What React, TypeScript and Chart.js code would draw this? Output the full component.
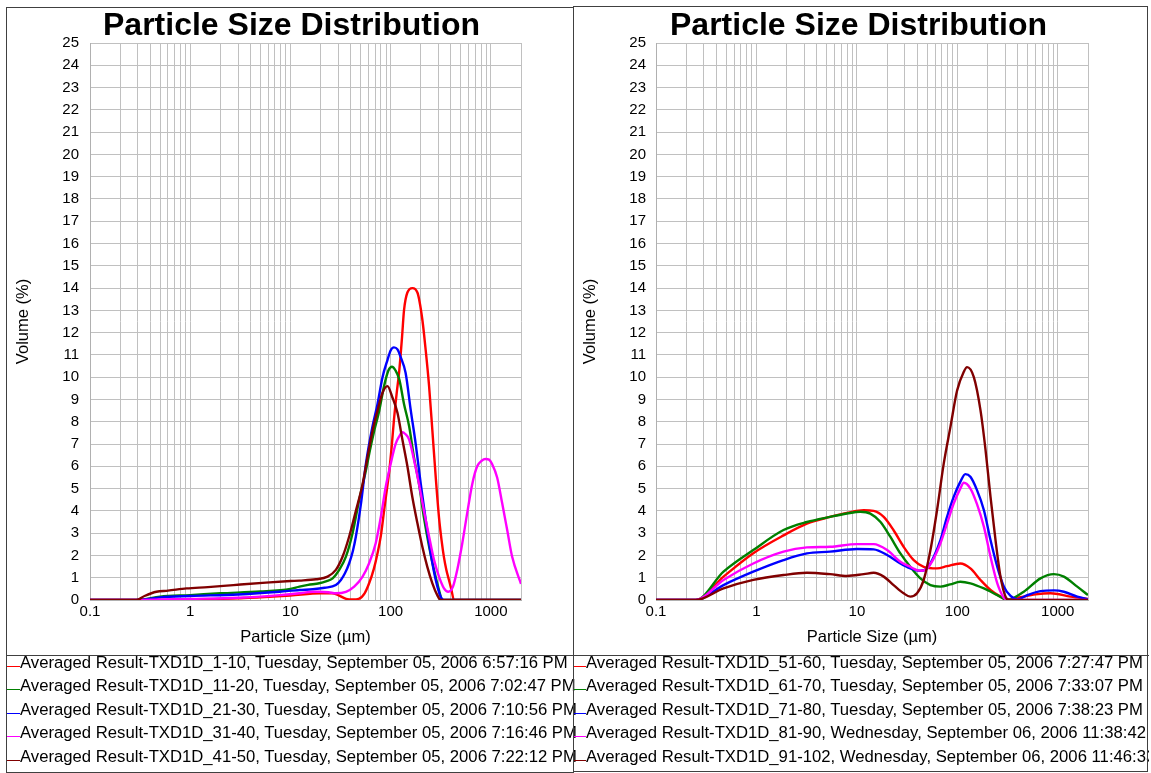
import React, { useEffect, useRef } from 'react';
import { Chart, registerables } from 'chart.js';

Chart.register(...registerables);

const FONT = '"Liberation Sans", Arial, Helvetica, sans-serif';

const TITLE = 'Particle Size Distribution';
const X_TITLE = 'Particle Size (µm)';
const Y_TITLE = 'Volume (%)';
const X_MIN = 0.1;
const X_MAX = 2000;
const Y_MIN = 0;
const Y_MAX = 25;
const X_LABELS = [0.1, 1, 10, 100, 1000];
const X_DECADES = [0.1, 1, 10, 100];
const X_MULT = [1, 2, 3, 4, 5, 6, 7, 8, 9];
const X_GRID = [...X_DECADES.flatMap((d) => X_MULT.map((m) => d * m)), 1000, 2000];

const COLORS = ['#ff0000', '#008000', '#0000ff', '#ff00ff', '#800000'];

// ---- Left chart series ----
const LEFT_LABELS = [
  'Averaged Result-TXD1D_1-10, Tuesday, September 05, 2006 6:57:16 PM',
  'Averaged Result-TXD1D_11-20, Tuesday, September 05, 2006 7:02:47 PM',
  'Averaged Result-TXD1D_21-30, Tuesday, September 05, 2006 7:10:56 PM',
  'Averaged Result-TXD1D_31-40, Tuesday, September 05, 2006 7:16:46 PM',
  'Averaged Result-TXD1D_41-50, Tuesday, September 05, 2006 7:22:12 PM',
];

const s1_10 = [0.1, 0.8, 1.5, 3, 5, 10, 20, 26, 30, 36, 42, 48, 55, 61, 68, 74, 80, 86, 92, 97, 103, 108, 115, 122, 130, 136, 147, 165, 185, 207, 224, 242, 261, 282, 304, 322, 341, 360, 382, 405, 428, 2000];
const v1_10 = [0, 0, 0.03, 0.08, 0.12, 0.2, 0.3, 0.3, 0.22, 0.05, 0.02, 0.05, 0.3, 0.75, 1.4, 2.1, 2.9, 4.0, 5.0, 5.8, 7.0, 8.1, 9.3, 10.3, 11.8, 13.0, 13.8, 14.0, 13.8, 12.6, 11.2, 9.6, 7.6, 5.5, 3.7, 2.7, 1.9, 1.35, 0.9, 0.45, 0, 0];

const s11_20 = [0.1, 0.3, 0.5, 1, 2, 5, 10, 12.3, 15, 19.4, 23, 26.4, 30.7, 35.8, 41.7, 48.6, 56.6, 62, 68.6, 77, 86, 95, 103, 112, 122, 136, 153, 171, 192, 215, 242, 271, 304, 327, 2000];
const v11_20 = [0, 0, 0.15, 0.22, 0.3, 0.38, 0.5, 0.6, 0.68, 0.75, 0.85, 0.97, 1.35, 1.95, 3.0, 4.5, 5.8, 6.7, 7.6, 8.5, 9.6, 10.3, 10.47, 10.3, 9.9, 8.8, 7.8, 6.4, 5.2, 3.7, 2.4, 1.35, 0.45, 0, 0];

const s21_30 = [0.1, 0.3, 0.5, 1, 3, 7.8, 12.3, 16.7, 22, 28.4, 31.9, 35, 38.6, 42, 45, 50.5, 56.6, 66, 74, 83, 93, 100, 108, 117, 126, 141, 159, 178, 200, 224, 251, 282, 316, 340, 2000];
const v21_30 = [0, 0, 0.12, 0.18, 0.25, 0.37, 0.45, 0.48, 0.55, 0.67, 0.9, 1.2, 1.65, 2.2, 2.85, 4.3, 6.1, 7.8, 8.8, 10.0, 10.77, 11.2, 11.34, 11.25, 10.9, 10.2, 8.5, 7.0, 5.2, 3.6, 2.1, 0.9, 0.15, 0, 0];

const s31_40 = [0.1, 0.3, 1, 3, 7.8, 12.3, 16.7, 19.4, 24, 28.4, 35.8, 43.3, 52.5, 61, 71, 80, 89.5, 100, 112, 122, 131, 140, 153, 171, 192, 215, 242, 271, 304, 341, 376, 419, 462, 519, 581, 652, 731, 810, 884, 960, 1030, 1156, 1297, 1455, 1630, 2000];
const v31_40 = [0, 0, 0.05, 0.1, 0.22, 0.3, 0.37, 0.37, 0.35, 0.3, 0.37, 0.6, 1.05, 1.65, 2.55, 3.75, 5.1, 6.1, 7.0, 7.35, 7.53, 7.45, 7.2, 6.3, 5.2, 4.0, 2.85, 1.8, 1.05, 0.52, 0.37, 0.6, 1.35, 2.55, 3.9, 5.2, 6.0, 6.25, 6.33, 6.3, 6.1, 5.5, 4.35, 3.15, 1.95, 0.72];

const s41_50 = [0.1, 0.29, 0.35, 0.46, 0.6, 0.92, 1.5, 2.7, 5.7, 10, 12.3, 18, 23.5, 28.4, 33.2, 38.6, 45, 52.5, 58.7, 66, 74, 83, 93, 104, 117, 131, 147, 165, 185, 207, 232, 261, 292, 316, 2000];
const v41_50 = [0, 0, 0.18, 0.37, 0.42, 0.52, 0.58, 0.67, 0.78, 0.85, 0.87, 0.93, 1.05, 1.35, 1.95, 2.85, 4.0, 5.2, 6.4, 7.6, 8.5, 9.3, 9.6, 9.1, 8.4, 7.2, 6.0, 4.6, 3.45, 2.4, 1.5, 0.75, 0.22, 0, 0];

// ---- Right chart series ----
const RIGHT_LABELS = [
  'Averaged Result-TXD1D_51-60, Tuesday, September 05, 2006 7:27:47 PM',
  'Averaged Result-TXD1D_61-70, Tuesday, September 05, 2006 7:33:07 PM',
  'Averaged Result-TXD1D_71-80, Tuesday, September 05, 2006 7:38:23 PM',
  'Averaged Result-TXD1D_81-90, Wednesday, September 06, 2006 11:38:42 AM',
  'Averaged Result-TXD1D_91-102, Wednesday, September 06, 2006 11:46:33 AM',
];

const s51_60 = [0.1, 0.25, 0.47, 0.93, 1.86, 3.18, 5.4, 7.96, 11.7, 14.7, 18.5, 23.2, 29.2, 36.8, 46.3, 62.8, 79, 107, 135, 170, 214, 269, 314, 398, 600, 847, 1343, 2000];
const v51_60 = [0, 0, 1.05, 2.1, 2.9, 3.43, 3.73, 3.91, 4.03, 4.0, 3.73, 3.13, 2.39, 1.79, 1.49, 1.42, 1.52, 1.64, 1.42, 0.9, 0.45, 0.15, 0.03, 0.1, 0.25, 0.3, 0.15, 0.05];

const s61_70 = [0.1, 0.25, 0.47, 0.93, 1.86, 3.18, 5.4, 7.96, 10.8, 13.6, 17.1, 21.5, 27.1, 34, 42.9, 54, 67.9, 85, 107, 135, 184, 250, 314, 459, 673, 915, 1150, 1563, 2000];
const v61_70 = [0, 0, 1.27, 2.24, 3.14, 3.5, 3.73, 3.88, 3.96, 3.88, 3.51, 2.84, 2.09, 1.49, 0.97, 0.67, 0.6, 0.7, 0.82, 0.75, 0.52, 0.22, 0, 0.37, 0.97, 1.16, 1.05, 0.6, 0.22];

const s71_80 = [0.1, 0.25, 0.47, 0.93, 1.86, 3.18, 5.4, 10, 14.7, 20, 27.1, 34, 42.9, 50, 58.3, 67.9, 79, 92, 107, 120, 135, 157, 184, 214, 250, 291, 339, 395, 497, 673, 915, 1150, 1563, 2000];
const v71_80 = [0, 0, 0.67, 1.27, 1.79, 2.09, 2.17, 2.29, 2.27, 2.02, 1.64, 1.42, 1.31, 1.42, 1.94, 2.69, 3.73, 4.63, 5.3, 5.65, 5.53, 4.93, 4.03, 2.69, 1.49, 0.6, 0.18, 0.03, 0.22, 0.4, 0.43, 0.37, 0.15, 0.03];

const s81_90 = [0.1, 0.25, 0.47, 0.93, 1.86, 3.18, 5.4, 10, 14.7, 20, 27.1, 34, 39.7, 44.6, 50, 58.3, 67.9, 79, 92, 107, 116, 135, 157, 184, 214, 250, 291, 320, 2000];
const v81_90 = [0, 0, 0.9, 1.64, 2.17, 2.36, 2.39, 2.51, 2.51, 2.24, 1.72, 1.49, 1.34, 1.31, 1.42, 1.87, 2.54, 3.43, 4.33, 5.0, 5.26, 5.0, 4.3, 3.28, 1.94, 0.75, 0.1, 0, 0];

const s91_102 = [0.1, 0.25, 0.47, 0.93, 1.86, 3.18, 5.4, 7.96, 11.7, 14.7, 18.5, 23.2, 29.2, 34, 39.7, 46.3, 54, 62.8, 73.3, 85.4, 99.5, 116, 125, 146, 170, 191, 214, 240, 269, 302, 330, 2000];
const v91_102 = [0, 0, 0.52, 0.9, 1.12, 1.22, 1.16, 1.08, 1.16, 1.22, 1.05, 0.67, 0.3, 0.15, 0.3, 0.9, 2.24, 4.03, 6.13, 7.77, 9.4, 10.24, 10.45, 10.0, 8.52, 6.73, 4.63, 2.69, 1.05, 0.15, 0, 0];

const LEFT_SERIES = [
  [s1_10, v1_10],
  [s11_20, v11_20],
  [s21_30, v21_30],
  [s31_40, v31_40],
  [s41_50, v41_50],
];
const RIGHT_SERIES = [
  [s51_60, v51_60],
  [s61_70, v61_70],
  [s71_80, v71_80],
  [s81_90, v81_90],
  [s91_102, v91_102],
];

function buildDatasets(series: number[][][], labels: string[]) {
  return series.map(([sizes, vols], i) => ({
    label: labels[i],
    data: sizes.map((s, k) => ({ x: s, y: vols[k] })),
    borderColor: COLORS[i],
    backgroundColor: COLORS[i],
    borderWidth: 2.4,
    pointRadius: 0,
    fill: false,
    cubicInterpolationMode: 'monotone' as const,
    order: series.length - i,
  }));
}

type ChartProps = {
  series: number[][][];
  labels: string[];
  width: number;
  height: number;
  padLeft: number;
  padRight: number;
  yWidth: number;
  yTickPad: number;
  yTitlePad: number;
};

function PsdChart(p: ChartProps) {
  const ref = useRef<HTMLCanvasElement | null>(null);
  useEffect(() => {
    if (!ref.current) return;
    const chart = new Chart(ref.current, {
      type: 'line',
      data: { datasets: buildDatasets(p.series, p.labels) as any },
      options: {
        responsive: false,
        animation: false,
        events: [],
        layout: { padding: { left: p.padLeft, right: p.padRight, top: 2, bottom: 0 } },
        plugins: {
          legend: { display: false },
          tooltip: { enabled: false },
          title: {
            display: true,
            text: TITLE,
            color: '#000',
            font: { family: FONT, size: 32, weight: 'bold', lineHeight: 1 },
            padding: { top: 0, bottom: 1 },
          },
        },
        scales: {
          x: {
            type: 'logarithmic',
            min: X_MIN,
            max: X_MAX,
            afterBuildTicks: (s: any) => {
              s.ticks = X_GRID.map((v) => ({ value: v }));
            },
            afterFit: (s: any) => {
              s.height = 54;
            },
            ticks: {
              autoSkip: false,
              maxRotation: 0,
              minRotation: 0,
              color: '#000',
              padding: 3,
              font: { family: FONT, size: 15 },
              callback: (v: any) => (X_LABELS.includes(Number(v)) ? String(v) : ''),
            },
            grid: { color: '#c0c0c0', lineWidth: 1, drawTicks: false },
            border: { color: '#b0b0b0' },
            title: {
              display: true,
              text: X_TITLE,
              color: '#000',
              font: { family: FONT, size: 16.5 },
              padding: { top: 0, bottom: 7 },
            },
          },
          y: {
            min: Y_MIN,
            max: Y_MAX,
            afterFit: (s: any) => {
              s.width = p.yWidth;
            },
            ticks: {
              stepSize: 1,
              color: '#000',
              padding: p.yTickPad,
              font: { family: FONT, size: 15 },
            },
            grid: { color: '#c0c0c0', lineWidth: 1, drawTicks: false },
            border: { color: '#b0b0b0' },
            title: {
              display: true,
              text: Y_TITLE,
              color: '#000',
              font: { family: FONT, size: 16.5 },
              padding: { top: p.yTitlePad, bottom: 0 },
            },
          },
        },
      } as any,
    });
    return () => chart.destroy();
  }, []);
  return <canvas ref={ref} width={p.width} height={p.height} style={{ display: 'block' }} />;
}

function Legend({ labels, lineLeft, textLeft }: { labels: string[]; lineLeft: number; textLeft: number }) {
  return (
    <>
      {labels.map((t, i) => (
        <React.Fragment key={i}>
          <div
            style={{
              position: 'absolute',
              left: lineLeft,
              top: 666 + i * 23.4,
              width: textLeft - lineLeft,
              height: 1,
              background: COLORS[i],
            }}
          />
          <div
            style={{
              position: 'absolute',
              left: textLeft,
              top: 651 + i * 23.4,
              height: 23.4,
              lineHeight: '23.4px',
              fontFamily: FONT,
              fontSize: 16.7,
              color: '#000',
              whiteSpace: 'nowrap',
            }}
          >
            {t}
          </div>
        </React.Fragment>
      ))}
    </>
  );
}

export default function App() {
  return (
    <div style={{ position: 'fixed', left: 0, top: 0, width: 1151, height: 773, background: '#fff', overflow: 'hidden' }}>
      {/* Left panel */}
      <div style={{ position: 'absolute', left: 0, top: 0, width: 1151, height: 773 }}>
        <div style={{ position: 'absolute', left: 7, top: 8 }}>
          <PsdChart
            series={LEFT_SERIES}
            labels={LEFT_LABELS}
            width={565}
            height={646}
            padLeft={55}
            padRight={51}
            yWidth={28}
            yTickPad={11}
            yTitlePad={-48.4}
          />
        </div>
        <div style={{ position: 'absolute', left: 6, top: 655, width: 567, height: 1, background: '#404040' }} />
        <Legend labels={LEFT_LABELS} lineLeft={7} textLeft={20} />
        <div style={{ position: 'absolute', left: 6, top: 7, width: 568, height: 766, border: '1px solid #404040', boxSizing: 'border-box' }} />
      </div>
      {/* Right panel */}
      <div style={{ position: 'absolute', left: 573, top: 6, width: 576, height: 767, overflow: 'hidden' }}>
        <div style={{ position: 'absolute', left: 1, top: 2 }}>
          <PsdChart
            series={RIGHT_SERIES}
            labels={RIGHT_LABELS}
            width={572}
            height={646}
            padLeft={55}
            padRight={58}
            yWidth={27}
            yTickPad={10}
            yTitlePad={-48.9}
          />
        </div>
        <div style={{ position: 'absolute', left: 0, top: 649, width: 576, height: 1, background: '#404040' }} />
        <div style={{ position: 'absolute', left: 0, top: -6, width: 576, height: 773 }}>
          <Legend labels={RIGHT_LABELS} lineLeft={1} textLeft={13} />
        </div>
        <div style={{ position: 'absolute', left: 0, top: 0, width: 575, height: 766, border: '1px solid #404040', boxSizing: 'border-box' }} />
      </div>
    </div>
  );
}
